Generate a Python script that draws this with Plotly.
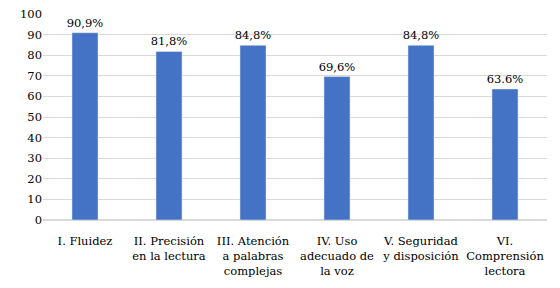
import plotly.graph_objects as go

categories = ["I. Fluidez", "II. Precisión<br>en la lectura", "III. Atención<br>a palabras<br>complejas",
              "IV. Uso<br>adecuado de<br>la voz", "V. Seguridad<br>y disposición", "VI.<br>Comprensión<br>lectora"]
values = [90.9, 81.8, 84.8, 69.6, 84.8, 63.6]
labels = ["90,9%", "81,8%", "84,8%", "69,6%", "84,8%", "63.6%"]
y_ticks = list(range(0, 101, 10))

FONT = "DejaVu Serif"
FS = 11.5

fig = go.Figure(go.Bar(
    x=categories, y=values, text=labels, textposition="outside",
    marker_color="#4472C4", cliponaxis=False, constraintext="none",
    textfont=dict(family=FONT, size=FS, color="#000000"),
))
fig.update_layout(
    width=552, height=280,
    margin=dict(l=35, r=13, t=6, b=68),
    paper_bgcolor="white", plot_bgcolor="white",
    bargap=0.69, showlegend=False,
    font=dict(family=FONT, size=FS, color="#000000"),
)
fig.update_yaxes(range=[0, 100], tickvals=y_ticks, showgrid=True, gridcolor="#d9d9d9",
                 gridwidth=1, zeroline=True, zerolinecolor="#d9d9d9", showline=False,
                 ticks="", ticklen=0, tickfont=dict(family=FONT, size=FS), automargin=False,
                 ticklabeloverflow="allow")
fig.update_xaxes(showline=True, linecolor="#d9d9d9", ticks="", tickfont=dict(family=FONT, size=FS),
                 tickangle=0, automargin=False, ticklabeloverflow="allow", ticklabelstandoff=10)
fig.write_html("out.html")
